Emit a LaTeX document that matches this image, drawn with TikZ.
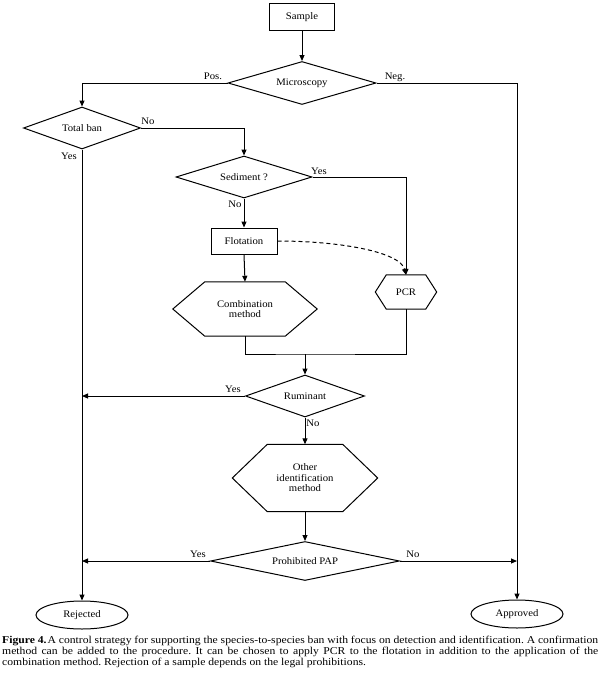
\documentclass[tikz,border=0pt]{standalone}
\usepackage{fontspec}
\setmainfont{Liberation Serif}[FakeStretch=1.07]
\newfontfamily\capfont{Liberation Serif}[FakeStretch=1.11]
\usetikzlibrary{shapes.geometric,arrows.meta,calc}
\newcommand\hexoutline[2]{%
  \draw[flow] (#1.west) -- ($(#1.north west)+(#2,0)$) -- ($(#1.north east)+(-#2,0)$) -- (#1.east)
    -- ($(#1.south east)+(-#2,0)$) -- ($(#1.south west)+(#2,0)$) -- cycle;}
\begin{document}
\begin{tikzpicture}[x=1pt,y=-1pt,
  every node/.style={font=\fontsize{10}{10.5}\selectfont},
  flow/.style={line width=1pt},
  arr/.style={flow,-{Triangle[length=6pt,width=5pt]}},
  box/.style={draw,line width=1pt,rectangle,inner sep=0pt},
  dec/.style={draw,line width=1pt,diamond,inner sep=0pt},
  term/.style={draw,line width=1pt,ellipse,inner sep=0pt,minimum width=92pt,minimum height=28pt},
  hex/.style={rectangle,inner sep=0pt,align=center},
  lbl/.style={inner sep=0pt},
  captext/.style={inner sep=0pt,anchor=base west,font=\capfont\fontsize{10.5}{11}\selectfont\frenchspacing}
]
\fill[white] (0,0) rectangle (600,688);
\useasboundingbox (0,0) rectangle (600,688);

% nodes
\node[box,minimum width=65pt,minimum height=27pt] (sample) at (302,17) {Sample};
\node[dec,aspect=3.4,minimum width=148pt,minimum height=43pt] (mic) at (302,83) {Microscopy};
\node[dec,aspect=2.8,minimum width=117pt,minimum height=42pt] (tb) at (82,128) {Total ban};
\node[dec,aspect=3.2,minimum width=136pt,minimum height=42pt] (sed) at (244,177) {Sediment ?};
\node[box,minimum width=66pt,minimum height=26pt] (flot) at (244,241) {Flotation};
\node[hex,minimum width=144pt,minimum height=54pt] (comb) at (245,309) {Combination\\method};
\hexoutline{comb}{32}
\node[hex,minimum width=61pt,minimum height=34pt] (pcr) at (406,292) {PCR};
\hexoutline{pcr}{11}
\node[dec,aspect=2.8,minimum width=119pt,minimum height=42pt] (rum) at (305,396) {Ruminant};
\node[hex,minimum width=145pt,minimum height=67pt] (oth) at (305,478) {Other\\identification\\method};
\hexoutline{oth}{35}
\node[dec,aspect=4.8,minimum width=189pt,minimum height=39pt] (pap) at (305,561) {Prohibited PAP};
\node[term] (rej) at (82,615) {Rejected};
\node[term] (appr) at (517,614) {Approved};

% connectors
\draw[arr] (sample.south) -- (mic.north);
\draw[arr] (mic.west) -| (tb.north);
\draw[arr] (mic.east) -| (appr.north);
\draw[arr] (tb.east) -| (sed.north);
\draw[arr] (tb.south) -- (rej.north);
\draw[arr] (sed.east) -| (pcr.north);
\draw[arr] (sed.south) -- (flot.north);
\draw[arr,dash pattern=on 4pt off 3pt] (flot.east) .. controls (340,241) and (400,252) .. (pcr.north);
\draw[arr] (flot.south) -- (comb.north);
\coordinate (merge) at (305,354);
\draw[flow] (comb.south) |- (merge) -| (pcr.south);
\draw[arr] (merge) -- (rum.north);
\draw[arr] (rum.west) -- (rum.west -| tb.south);
\draw[arr] (rum.south) -- (oth.north);
\draw[arr] (oth.south) -- (pap.north);
\draw[arr] (pap.west) -- (pap.west -| rej.north);
\draw[arr] (pap.east) -- (pap.east -| appr.north);

% labels
\node[lbl] (lpos) at (213,76) {Pos.};
\node[lbl] (lneg) at (395,77) {Neg.};
\node[lbl] (ltbno) at (148,121) {No};
\node[lbl] (ltbyes) at (69,156) {Yes};
\node[lbl] (lsedyes) at (319,171) {Yes};
\node[lbl] (lsedno) at (235,204) {No};
\node[lbl] (lrumyes) at (233,389) {Yes};
\node[lbl] (lrumno) at (313,423) {No};
\node[lbl] (lpapyes) at (198,554) {Yes};
\node[lbl] (lpapno) at (413,554) {No};

% caption
\node[captext] (cap1) at (2,643) {\makebox[596pt][s]{\textbf{Figure 4.}\hspace{1pt}A control strategy for supporting the species-to-species ban with focus on detection and identification. A confirmation}};
\node[captext] (cap2) at (2,654) {\makebox[596pt][s]{method can be added to the procedure. It can be chosen to apply PCR to the flotation in addition to the application of the}};
\node[captext] (cap3) at (2,665) {combination method. Rejection of a sample depends on the legal prohibitions.};
\end{tikzpicture}
\end{document}
